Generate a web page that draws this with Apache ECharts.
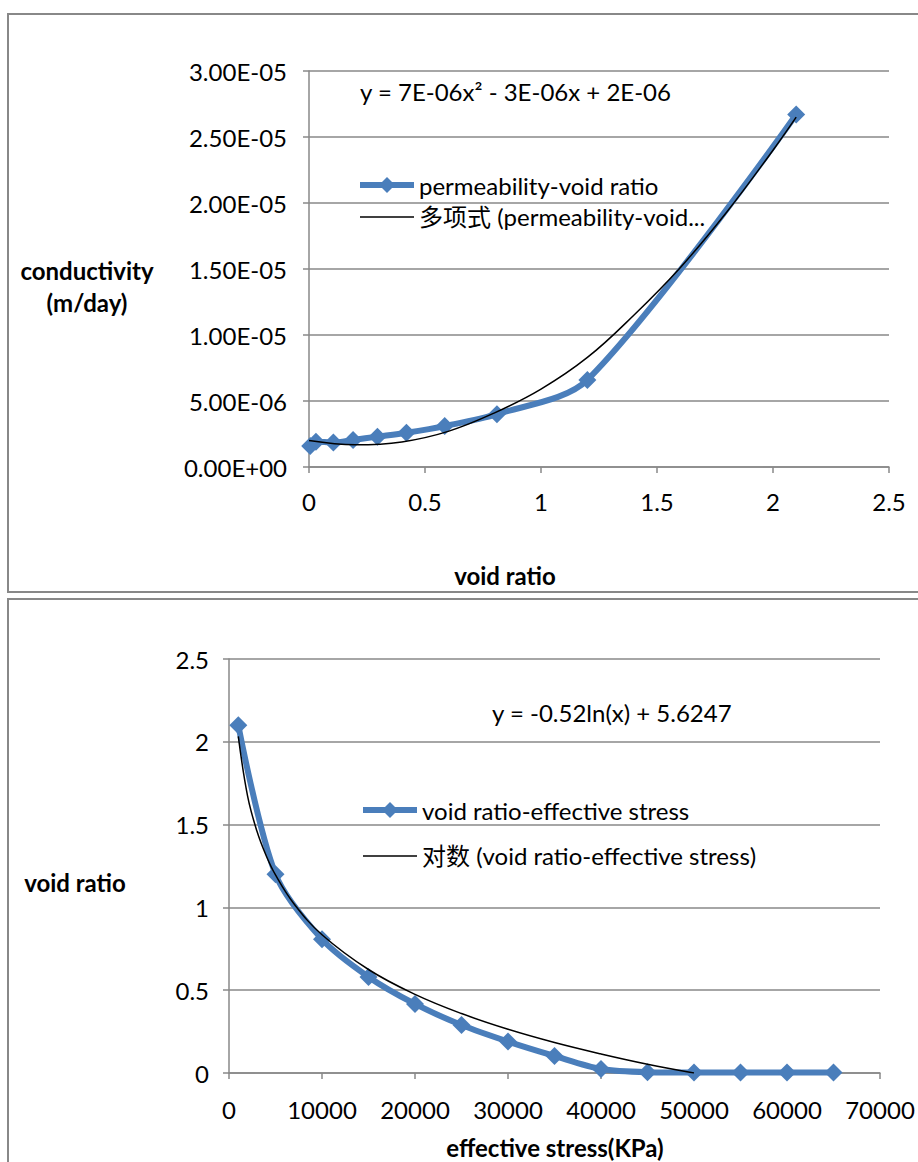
<!DOCTYPE html>
<html><head><meta charset="utf-8">
<script src="https://cdn.jsdelivr.net/npm/echarts@6/dist/echarts.min.js"></script>
<style>html,body{margin:0;padding:0;background:#fff}#c{width:918px;height:1162px}</style>
</head><body><div id="c"></div>
<script>
// ---- top chart: conductivity vs void ratio ----
const topVoidRatio = [0.005, 0.03, 0.105, 0.19, 0.295, 0.42, 0.585, 0.81, 1.2, 2.1];
const topConductivity = [1.59e-6, 1.92e-6, 1.85e-6, 2.05e-6, 2.3e-6, 2.6e-6, 3.1e-6, 4.0e-6, 6.6e-6, 2.67e-5];
const polyTrendX = [0, 0.2, 0.4, 0.6, 0.8, 1.0, 1.2, 1.4, 1.6, 1.8, 2.0, 2.1];
const polyTrendY = [2.0e-6, 1.68e-6, 1.9e-6, 2.7e-6, 4.1e-6, 5.9e-6, 8.3e-6, 11.5e-6, 15.1e-6, 19.3e-6, 24.0e-6, 26.5e-6];
const topXTicks = [0, 0.5, 1, 1.5, 2, 2.5];
const topYTicks = [0, 5e-6, 1e-5, 1.5e-5, 2e-5, 2.5e-5, 3e-5];

// ---- bottom chart: void ratio vs effective stress ----
const stress = [1000, 5000, 10000, 15000, 20000, 25000, 30000, 35000, 40000, 45000, 50000, 55000, 60000, 65000];
const voidRatio = [2.1, 1.2, 0.807, 0.58, 0.417, 0.29, 0.19, 0.103, 0.024, 0.005, 0.003, 0.003, 0.003, 0.003];
const logTrendX = [1000, 2000, 3000, 4000, 5000, 7000, 10000, 15000, 20000, 25000, 30000, 35000, 40000, 45000, 50000];
const logTrendY = [2.033, 1.672, 1.461, 1.312, 1.196, 1.021, 0.835, 0.625, 0.475, 0.359, 0.264, 0.184, 0.115, 0.053, 0.0];
const botXTicks = [0, 10000, 20000, 30000, 40000, 50000, 60000, 70000];
const botYTicks = [0, 0.5, 1, 1.5, 2, 2.5];

const FONT = 'Lato, "Noto Sans CJK SC", sans-serif';
const FS = 24;
const GRAY = '#888888';
const BLUE = '#4a7ebb';

function sci(v) {
  if (Math.abs(v) < 1e-15) return '0.00E+00';
  let e = Math.floor(Math.log10(Math.abs(v)) + 1e-9);
  let m = v / Math.pow(10, e);
  if (Math.abs(m) >= 9.995) { m /= 10; e += 1; }
  return m.toFixed(2) + 'E' + (e < 0 ? '-' : '+') + String(Math.abs(e)).padStart(2, '0');
}
function plain(v) { return String(v); }
function zip(a, b) { return a.map((x, i) => [x, b[i]]); }

const axisCommon = {
  axisLine: { show: true, onZero: false, lineStyle: { color: GRAY, width: 1.5 } },
  axisTick: { show: true, length: 6, lineStyle: { color: GRAY, width: 1.5 } },
  splitLine: { show: false },
  axisLabel: { color: '#000', fontSize: FS, fontFamily: FONT }
};
const legendText = { fontSize: FS, fontFamily: FONT, color: '#000' };

const chart = echarts.init(document.getElementById('c'), null, { renderer: 'svg' });
chart.setOption({
  animation: false,
  backgroundColor: '#fff',
  grid: [
    { left: 309, right: 29, top: 71, bottom: 695, containLabel: false },
    { left: 229, right: 38, top: 659, bottom: 89, containLabel: false }
  ],
  xAxis: [
    Object.assign({}, axisCommon, {
      gridIndex: 0, type: 'value', min: topXTicks[0], max: topXTicks[topXTicks.length - 1],
      interval: topXTicks[1] - topXTicks[0],
      axisLabel: Object.assign({}, axisCommon.axisLabel, { margin: 22, formatter: plain })
    }),
    Object.assign({}, axisCommon, {
      gridIndex: 1, type: 'value', min: botXTicks[0], max: botXTicks[botXTicks.length - 1],
      interval: botXTicks[1] - botXTicks[0],
      axisLabel: Object.assign({}, axisCommon.axisLabel, { margin: 24, formatter: plain })
    })
  ],
  yAxis: [
    Object.assign({}, axisCommon, {
      gridIndex: 0, type: 'value', min: topYTicks[0], max: topYTicks[topYTicks.length - 1],
      interval: topYTicks[1] - topYTicks[0],
      splitLine: { show: true, lineStyle: { color: GRAY, width: 1.5 } },
      axisLabel: Object.assign({}, axisCommon.axisLabel, { margin: 22, formatter: sci })
    }),
    Object.assign({}, axisCommon, {
      gridIndex: 1, type: 'value', min: botYTicks[0], max: botYTicks[botYTicks.length - 1],
      interval: botYTicks[1] - botYTicks[0],
      splitLine: { show: true, lineStyle: { color: GRAY, width: 1.5 } },
      axisLabel: Object.assign({}, axisCommon.axisLabel, { margin: 20, formatter: plain })
    })
  ],
  legend: [
    {
      orient: 'vertical', left: 357, top: 173, padding: 0, itemWidth: 54, itemHeight: 20, itemGap: 8,
      data: [
        { name: 'permeability-void ratio', lineStyle: { width: 6 } },
        { name: '多项式 (permeability-void ratio)', itemStyle: { opacity: 0 }, lineStyle: { width: 1.5 } }
      ],
      formatter: n => n.startsWith('多项式') ? '多项式 (permeability-void...' : n,
      textStyle: legendText
    },
    {
      orient: 'vertical', left: 360, top: 798, padding: 0, itemWidth: 54, itemHeight: 20, itemGap: 22,
      data: [
        { name: 'void ratio-effective stress', lineStyle: { width: 6 } },
        { name: '对数 (void ratio-effective stress)', itemStyle: { opacity: 0 }, lineStyle: { width: 1.5 } }
      ],
      textStyle: legendText
    }
  ],
  series: [
    {
      name: 'permeability-void ratio', type: 'line', xAxisIndex: 0, yAxisIndex: 0,
      data: zip(topVoidRatio, topConductivity), smooth: 0.3,
      symbol: 'diamond', symbolSize: 18,
      lineStyle: { color: BLUE, width: 6 }, itemStyle: { color: BLUE }, z: 2
    },
    {
      name: '多项式 (permeability-void ratio)', type: 'line', xAxisIndex: 0, yAxisIndex: 0,
      data: zip(polyTrendX, polyTrendY), smooth: 0.4, symbol: 'none',
      lineStyle: { color: '#000', width: 1.5 }, itemStyle: { color: '#000' }, z: 3
    },
    {
      name: 'void ratio-effective stress', type: 'line', xAxisIndex: 1, yAxisIndex: 1,
      data: zip(stress, voidRatio), smooth: 0.3,
      symbol: 'diamond', symbolSize: 18,
      lineStyle: { color: BLUE, width: 6 }, itemStyle: { color: BLUE }, z: 2
    },
    {
      name: '对数 (void ratio-effective stress)', type: 'line', xAxisIndex: 1, yAxisIndex: 1,
      data: zip(logTrendX, logTrendY), smooth: 0.4, symbol: 'none',
      lineStyle: { color: '#000', width: 1.5 }, itemStyle: { color: '#000' }, z: 3
    }
  ],
  graphic: [
    { type: 'rect', shape: { x: 8, y: 14, width: 930, height: 578 }, style: { fill: 'none', stroke: GRAY, lineWidth: 2 }, z: -1 },
    { type: 'rect', shape: { x: 8, y: 599, width: 930, height: 600 }, style: { fill: 'none', stroke: GRAY, lineWidth: 2 }, z: -1 },
    { type: 'text', x: 360, y: 91, style: { text: 'y = 7E-06x² - 3E-06x + 2E-06', font: FS + 'px ' + FONT, fill: '#000', textVerticalAlign: 'middle' } },
    { type: 'text', x: 492, y: 712, style: { text: 'y = -0.52ln(x) + 5.6247', font: FS + 'px ' + FONT, fill: '#000', textVerticalAlign: 'middle' } },
    { type: 'text', x: 87, y: 270, style: { text: 'conductivity', font: 'bold ' + FS + 'px ' + FONT, fill: '#000', textAlign: 'center', textVerticalAlign: 'middle' } },
    { type: 'text', x: 87, y: 302, style: { text: '(m/day)', font: 'bold ' + FS + 'px ' + FONT, fill: '#000', textAlign: 'center', textVerticalAlign: 'middle' } },
    { type: 'text', x: 505, y: 575, style: { text: 'void ratio', font: 'bold ' + FS + 'px ' + FONT, fill: '#000', textAlign: 'center', textVerticalAlign: 'middle' } },
    { type: 'text', x: 75, y: 882, style: { text: 'void ratio', font: 'bold ' + FS + 'px ' + FONT, fill: '#000', textAlign: 'center', textVerticalAlign: 'middle' } },
    { type: 'text', x: 555, y: 1147, style: { text: 'effective stress(KPa)', font: 'bold ' + FS + 'px ' + FONT, fill: '#000', textAlign: 'center', textVerticalAlign: 'middle' } }
  ]
});
</script>
</body></html>
